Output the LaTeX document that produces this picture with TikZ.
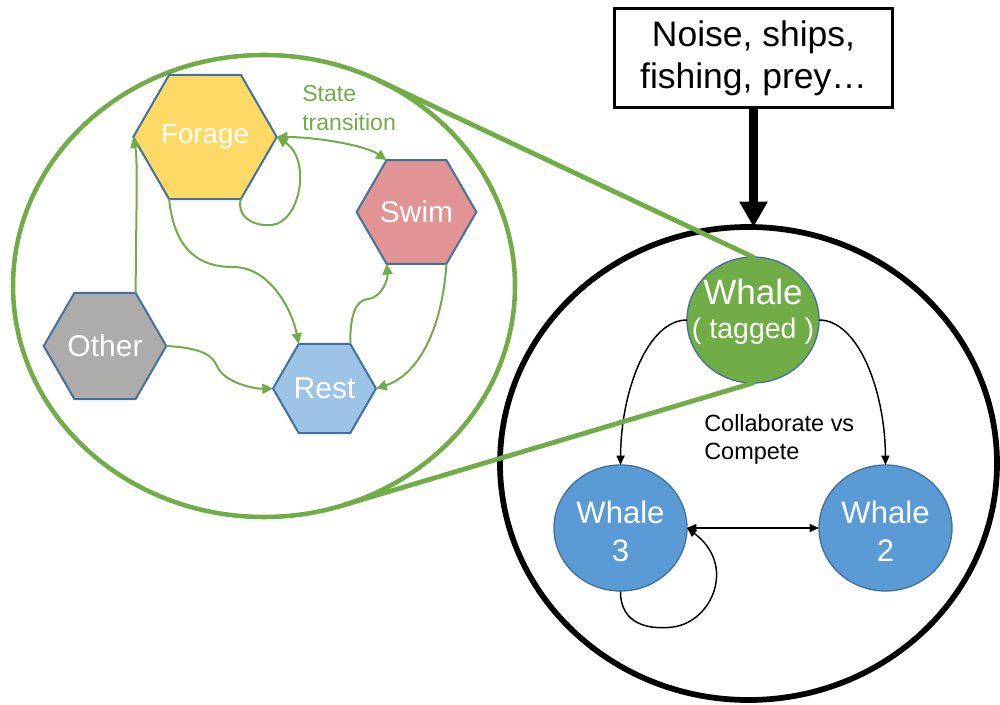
\documentclass[tikz,border=0pt]{standalone}
\usepackage{fontspec}
\setmainfont{Liberation Sans}
\usetikzlibrary{shapes.geometric,arrows.meta}

\definecolor{leafgreen}{HTML}{70AD47}
\definecolor{hexedge}{HTML}{41719C}
\definecolor{forageyellow}{HTML}{FFD966}
\definecolor{swimpink}{HTML}{E29393}
\definecolor{restblue}{HTML}{9DC3E6}
\definecolor{othergray}{HTML}{AEABAB}
\definecolor{whaleblue}{HTML}{5B9BD5}

\tikzset{
  hexbig/.style={regular polygon, regular polygon sides=6, minimum size=90pt,
    inner sep=0pt, outer sep=0pt, draw=hexedge, line width=1.5pt, text=white,
    font=\fontsize{22.5pt}{26pt}\selectfont},
  hexsmall/.style={hexbig, minimum size=77.25pt},
  gconn/.style={draw=leafgreen, line width=1.5pt,
    -{Triangle[length=8pt,width=7.5pt]}},
  bconn/.style={draw=black, line width=1.1pt,
    -{Triangle[length=7pt,width=6pt]}},
  whalenode/.style={ellipse, draw=hexedge, line width=1pt, fill=whaleblue,
    minimum width=99.75pt, minimum height=94.5pt, inner sep=0pt, outer sep=0pt},
  whalelbl/.style={text=white, inner sep=0pt, font=\fontsize{23.3pt}{28pt}\selectfont},
  zoomring/.style={draw=leafgreen, line width=3.4pt},
  zoomline/.style={draw=leafgreen, line width=3.6pt, line cap=round},
}

\begin{document}
\begin{tikzpicture}[x=0.75pt,y=-0.75pt]
\useasboundingbox (0,0) rectangle (1000,705);

% group of whales (black ring)
\node[ellipse, draw=black, line width=4.3pt, minimum width=372.75pt,
  minimum height=354.75pt, inner sep=0pt, outer sep=0pt] (group) at (748.5,463.5) {};

% behaviour states of the tagged whale (green ring)
\node[ellipse, zoomring, minimum width=376.5pt, minimum height=346.5pt,
  inner sep=0pt, outer sep=0pt] (zone) at (264,286) {};

% state hexagons
\node[hexbig, fill=forageyellow, font=\fontsize{20.8pt}{24pt}\selectfont] (forage) at (205,137) {Forage};
\node[hexbig, fill=othergray] (other) at (105,346) {Other};
\node[hexsmall, fill=restblue] (rest) at (324.5,388.5) {Rest};
\node[hexsmall, fill=swimpink] (swim) at (416.5,212) {Swim};

\node[anchor=west, align=left, text=leafgreen, inner sep=0pt,
  font=\fontsize{17.3pt}{21.75pt}\selectfont] (statelbl) at (302,108) {State\\transition};

% state transitions
\draw[gconn] (other.60) .. controls (136,220) and (138,160) .. (forage.180);
\draw[gconn, {Triangle[length=8pt,width=7.5pt]}-{Triangle[length=8pt,width=7.5pt]}]
  (forage.0) .. controls (315,137) and (365,145) .. (swim.120);
\draw[gconn] (forage.300) .. controls (236,215) and (252,227) .. (272,225)
  .. controls (300,222) and (312,160) .. (forage.0);
\draw[gconn] (forage.240) .. controls (175,260) and (210,267) .. (233,267)
  .. controls (270,267) and (292,310) .. (rest.120);
\draw[gconn] (other.0) .. controls (205,348) and (213,357) .. (217,366)
  .. controls (224,383) and (255,389) .. (rest.180);
\draw[gconn] (rest.60) .. controls (350,310) and (358,300) .. (368,299)
  .. controls (383,297) and (388,278) .. (swim.240);
\draw[gconn] (swim.300) .. controls (442,330) and (418,375) .. (rest.0);

% whales
\node[whalenode, fill=leafgreen, minimum width=99pt] (tagged) at (753,320) {};
\node[whalelbl, font=\fontsize{26.3pt}{28pt}\selectfont] (taggedname) at (753,292) {Whale};
\node[whalelbl, font=\fontsize{21.4pt}{24pt}\selectfont] (taggedsub) at (753,331) {( tagged )};
\node[whalenode] (w3) at (620.5,528) {};
\node[whalelbl] (w3name) at (620.5,512) {Whale};
\node[whalelbl] (w3num) at (620.5,551) {3};
\node[whalenode] (w2) at (885.5,528) {};
\node[whalelbl] (w2name) at (885.5,512) {Whale};
\node[whalelbl] (w2num) at (885.5,551) {2};

\node[anchor=west, align=left, inner sep=0pt,
  font=\fontsize{17.6pt}{21pt}\selectfont] (collab) at (704,439) {Collaborate vs\\Compete};

% interactions between whales
\draw[bconn] (tagged.180) .. controls (648,320) and (621,390) .. (w3.north);
\draw[bconn] (tagged.0) .. controls (858,320) and (885,390) .. (w2.north);
\draw[bconn, {Triangle[length=7pt,width=6pt]}-{Triangle[length=7pt,width=6pt]}] (w3.0) -- (w2.180);
\draw[bconn] (w3.south) .. controls (620,625) and (650,630) .. (673,627)
  .. controls (712,622) and (737,565) .. (w3.0);

% zoom lines from the state ring to the tagged whale
\draw[zoomline] (zone.61) -- (tagged.north);
\draw[zoomline] (zone.-70) -- (tagged.south);

% external drivers
\node[draw=black, line width=2.25pt, minimum width=208.5pt, minimum height=74.25pt,
  inner sep=0pt, outer sep=0pt, align=center,
  font=\fontsize{26.6pt}{31.5pt}\selectfont] (drivers) at (753.5,58) {Noise, ships,\\fishing, prey…};
\draw[line width=6.75pt, -{Triangle[length=19pt,width=20pt]}]
  (drivers.south) -- (drivers.south |- group.north);
\end{tikzpicture}
\end{document}
